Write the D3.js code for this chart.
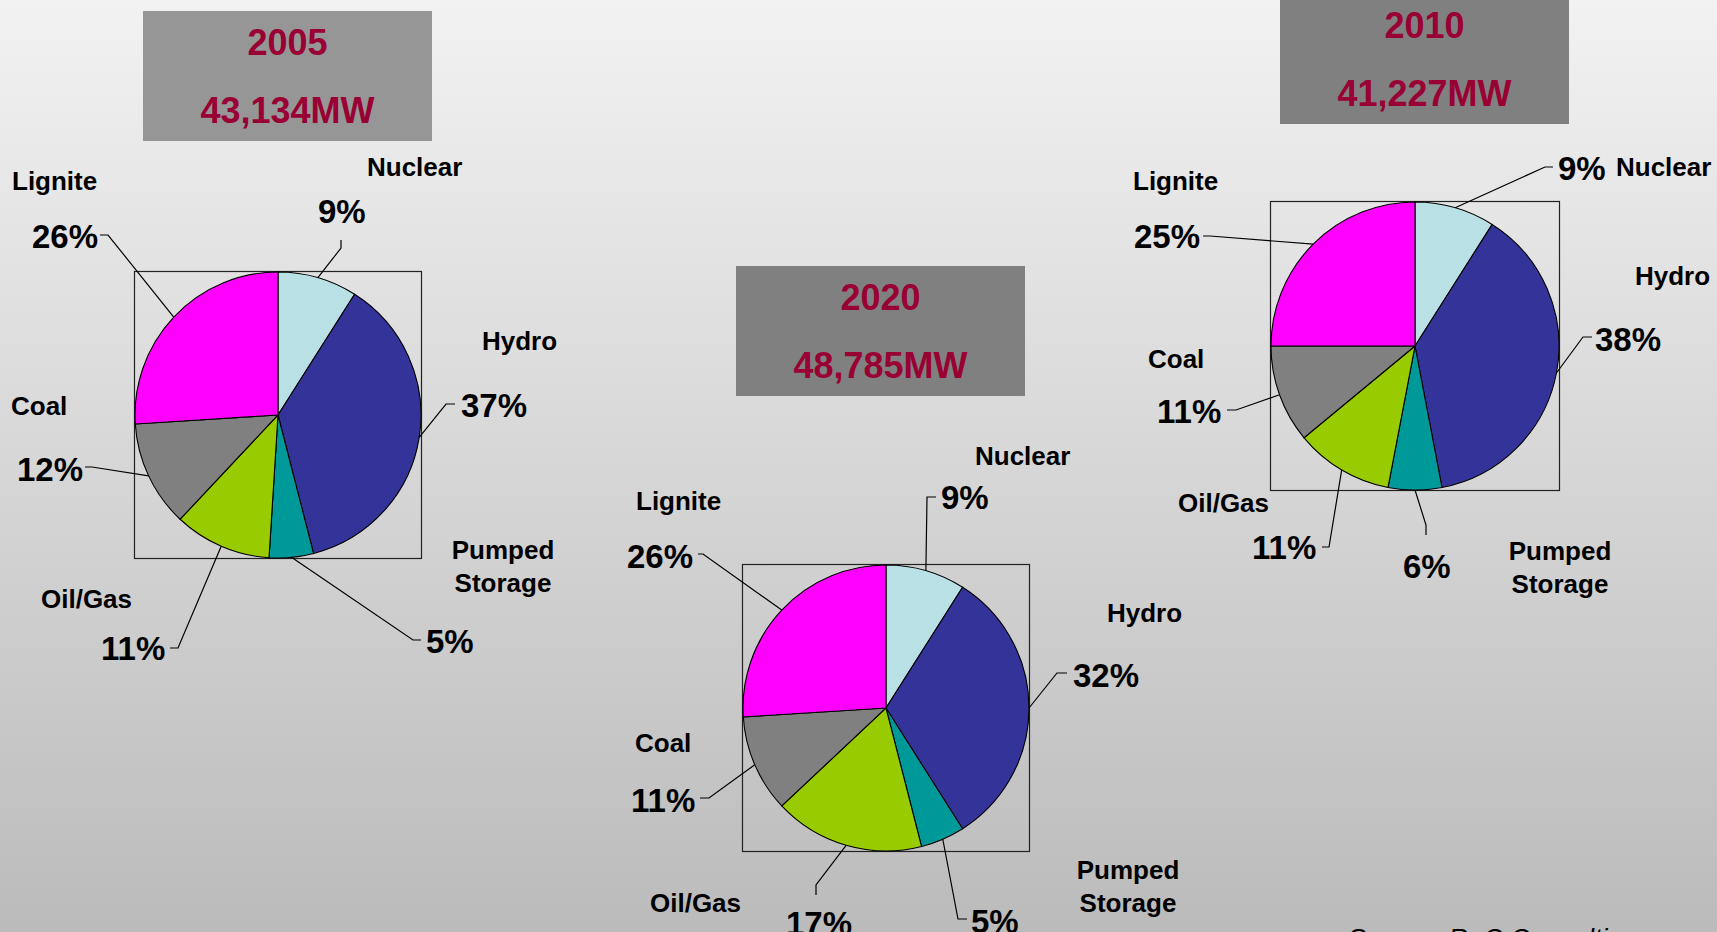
<!DOCTYPE html>
<html>
<head>
<meta charset="utf-8">
<script src="https://cdn.jsdelivr.net/npm/d3@7"></script>
<style>
  html, body { margin: 0; padding: 0; overflow: hidden; }
  svg { display: block; font-family: "Liberation Sans", Arial, sans-serif; }
  .name { font-size: 26px; font-weight: bold; }
  .pct { font-size: 33px; font-weight: bold; }
  .title { font-size: 36px; font-weight: bold; fill: #990033; }
  .leader { fill: none; stroke: #000; stroke-width: 1.2; }
</style>
</head>
<body>
<svg id="chart" width="1717" height="932"></svg>
<script>
// generation capacity mix, three years
const categories = ["Nuclear", "Hydro", "Pumped Storage", "Oil/Gas", "Coal", "Lignite"];
const colors = ["#b9e0e4", "#333399", "#009999", "#99cc00", "#808080", "#ff00ff"];
const years = ["2005", "2010", "2020"];
const capacities = ["43,134MW", "41,227MW", "48,785MW"];
const share2005 = [9, 37, 5, 11, 12, 26];
const share2010 = [9, 38, 6, 11, 11, 25];
const share2020 = [9, 32, 5, 17, 11, 26];

// layout of each panel: pie centre, title box, label spots and leader elbows
const panels = [
  {
    year: years[0], cap: capacities[0], values: share2005,
    cx: 278, cy: 415, r: 143,
    box: {x: 143, y: 11, fill: "#969696"},
    labels: [
      {nx: 367, ny: 176, px: 318, py: 223, a: [341, 240], b: [341, 248]},
      {nx: 482, ny: 350, px: 461, py: 417, a: [455, 404], b: [446, 404]},
      {nx: 503, ny: 559, px: 426, py: 653, a: [421, 640], b: [413, 640], mid: true},
      {nx: 41, ny: 608, px: 101, py: 660, a: [170, 648], b: [178, 648]},
      {nx: 11, ny: 415, px: 17, py: 481, a: [85, 467], b: [92, 467]},
      {nx: 12, ny: 190, px: 32, py: 248, a: [100, 235], b: [108, 235]}
    ]
  },
  {
    year: years[1], cap: capacities[1], values: share2010,
    cx: 1415, cy: 346, r: 144,
    box: {x: 1280, y: -6, fill: "#808080"},
    labels: [
      {nx: 1616, ny: 176, px: 1558, py: 180, a: [1553, 167], b: [1545, 167]},
      {nx: 1635, ny: 285, px: 1595, py: 351, a: [1592, 337], b: [1583, 337]},
      {nx: 1560, ny: 560, px: 1403, py: 578, a: [1426, 535], b: [1426, 525], mid: true},
      {nx: 1178, ny: 512, px: 1252, py: 559, a: [1322, 547], b: [1329, 547]},
      {nx: 1148, ny: 368, px: 1157, py: 423, a: [1227, 410], b: [1236, 410]},
      {nx: 1133, ny: 190, px: 1134, py: 248, a: [1203, 236], b: [1210, 236]}
    ]
  },
  {
    year: years[2], cap: capacities[2], values: share2020,
    cx: 886, cy: 708, r: 143,
    box: {x: 736, y: 266, fill: "#808080"},
    labels: [
      {nx: 975, ny: 465, px: 941, py: 509, a: [936, 497], b: [927, 497]},
      {nx: 1107, ny: 622, px: 1073, py: 687, a: [1067, 673], b: [1057, 673]},
      {nx: 1128, ny: 879, px: 971, py: 933, a: [967, 919], b: [958, 919], mid: true},
      {nx: 650, ny: 912, px: 786, py: 935, a: [816, 895], b: [816, 885]},
      {nx: 635, ny: 752, px: 631, py: 812, a: [700, 798], b: [709, 798]},
      {nx: 636, ny: 510, px: 627, py: 568, a: [698, 554], b: [703, 554]}
    ]
  }
];

const svg = d3.select("#chart");
const width = +svg.attr("width");
const height = +svg.attr("height");

const grad = svg.append("defs").append("linearGradient")
  .attr("id", "bg").attr("x1", 0).attr("y1", 0).attr("x2", 0).attr("y2", 1);
grad.append("stop").attr("offset", "0%").attr("stop-color", "#f2f2f2");
grad.append("stop").attr("offset", "100%").attr("stop-color", "#bbbbbb");

svg.append("rect").attr("width", width).attr("height", height).attr("fill", "url(#bg)");

const pie = d3.pie().sort(null).value(d => d).startAngle(0).endAngle(2 * Math.PI);
const boxW = 289, boxH = 130;

panels.forEach(p => {
  const g = svg.append("g");
  const arcs = pie(p.values);
  const arc = d3.arc().innerRadius(0).outerRadius(p.r);
  const edge = d3.arc().innerRadius(p.r).outerRadius(p.r);

  // title box
  g.append("rect")
    .attr("x", p.box.x).attr("y", p.box.y)
    .attr("width", boxW).attr("height", boxH)
    .attr("fill", p.box.fill);
  g.append("text").attr("class", "title")
    .attr("x", p.box.x + boxW / 2).attr("y", p.box.y + 44)
    .attr("text-anchor", "middle").text(p.year);
  g.append("text").attr("class", "title")
    .attr("x", p.box.x + boxW / 2).attr("y", p.box.y + 112)
    .attr("text-anchor", "middle").text(p.cap);

  // plot area frame
  g.append("rect")
    .attr("x", p.cx - p.r - 0.5).attr("y", p.cy - p.r - 0.5)
    .attr("width", 2 * p.r + 1).attr("height", 2 * p.r + 1)
    .attr("fill", "none").attr("stroke", "#222").attr("stroke-width", 1.2);

  const pg = g.append("g").attr("transform", `translate(${p.cx},${p.cy})`);
  pg.selectAll("path")
    .data(arcs)
    .join("path")
    .attr("d", arc)
    .attr("fill", (d, i) => colors[i])
    .attr("stroke", "#000")
    .attr("stroke-width", 1.1);

  // leaders
  const line = d3.line();
  g.selectAll(".leader")
    .data(arcs)
    .join("path")
    .attr("class", "leader")
    .attr("d", (d, i) => {
      const L = p.labels[i];
      const c = edge.centroid(d);
      return line([L.a, L.b, [p.cx + c[0], p.cy + c[1]]]);
    });

  // percent labels
  g.selectAll(".pct")
    .data(arcs)
    .join("text")
    .attr("class", "pct")
    .attr("x", (d, i) => p.labels[i].px)
    .attr("y", (d, i) => p.labels[i].py)
    .text(d => d.data + "%");

  // category labels
  categories.forEach((name, i) => {
    const L = p.labels[i];
    const t = g.append("text").attr("class", "name")
      .attr("x", L.nx).attr("y", L.ny)
      .attr("text-anchor", L.mid ? "middle" : "start");
    if (name.includes(" ")) {
      name.split(" ").forEach((w, k) => {
        t.append("tspan").attr("x", L.nx).attr("dy", k === 0 ? 0 : 33).text(w);
      });
    } else {
      t.text(name);
    }
  });
});

svg.append("text")
  .attr("x", 1348).attr("y", 948)
  .attr("font-size", 27).attr("font-style", "italic")
  .text("Source: ReC Consulting");
</script>
</body>
</html>
